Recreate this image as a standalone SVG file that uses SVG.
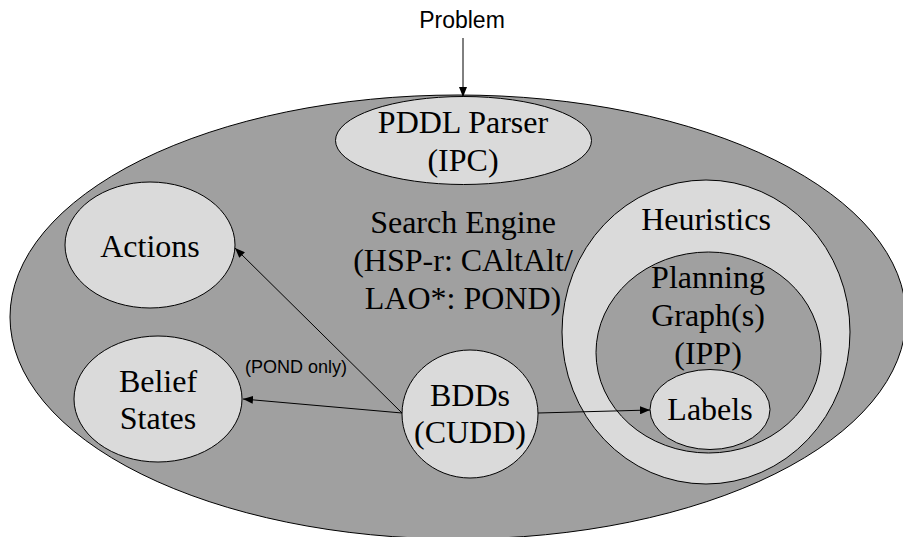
<svg xmlns="http://www.w3.org/2000/svg" width="903" height="537" viewBox="0 0 903 537">
<defs>
<marker id="ah" viewBox="0 0 10 8" refX="10" refY="4" markerWidth="10" markerHeight="8" markerUnits="userSpaceOnUse" orient="auto">
<path d="M0,0 L10,4 L0,8 Z" fill="#000"/>
</marker>
<style>
.dark{fill:#a0a0a0;stroke:#000;stroke-width:1}
.light{fill:#dadada;stroke:#000;stroke-width:1}
.t{font-family:"Liberation Serif","Times New Roman",serif;font-size:32px;fill:#000;text-anchor:middle}
.s{font-family:"Liberation Sans",Arial,sans-serif;fill:#000;text-anchor:middle}
.c{stroke:#000;stroke-width:1;fill:none;marker-end:url(#ah)}
</style>
</defs>
<rect width="903" height="537" fill="#fff"/>
<g id="search-engine">
<ellipse class="dark" cx="458" cy="317" rx="448" ry="222"/>
<text class="t" x="463" y="233">Search Engine</text>
<text class="t" x="463" y="271">(HSP-r: CAltAlt/</text>
<text class="t" x="463" y="309">LAO*: POND)</text>
</g>
<g id="problem">
<text class="s" x="462" y="28" font-size="23">Problem</text>
</g>
<g id="pddl-parser">
<ellipse class="light" cx="463.5" cy="140.5" rx="128" ry="44"/>
<text class="t" x="463" y="133">PDDL Parser</text>
<text class="t" x="463" y="171">(IPC)</text>
</g>
<g id="actions">
<ellipse class="light" cx="150" cy="245" rx="85" ry="63"/>
<text class="t" x="150" y="257">Actions</text>
</g>
<g id="belief-states">
<ellipse class="light" cx="158" cy="399" rx="84" ry="63"/>
<text class="t" x="158" y="392">Belief</text>
<text class="t" x="158" y="429">States</text>
</g>
<g id="bdds">
<ellipse class="light" cx="470" cy="414" rx="68" ry="64"/>
<text class="t" x="470" y="406">BDDs</text>
<text class="t" x="470" y="443">(CUDD)</text>
</g>
<g id="heuristics">
<ellipse class="light" cx="706" cy="332" rx="144" ry="152"/>
<text class="t" x="706" y="230">Heuristics</text>
</g>
<g id="planning-graph">
<ellipse class="dark" cx="708.5" cy="352.5" rx="112.5" ry="100.5"/>
<text class="t" x="708" y="288">Planning</text>
<text class="t" x="708" y="326">Graph(s)</text>
<text class="t" x="708" y="364">(IPP)</text>
</g>
<g id="labels">
<ellipse class="light" cx="710" cy="409.5" rx="60" ry="40"/>
<text class="t" x="710" y="420">Labels</text>
</g>
<g id="connectors">
<line class="c" x1="463" y1="38" x2="463" y2="97"/>
<line class="c" x1="402" y1="413" x2="235" y2="248"/>
<line class="c" x1="402" y1="413" x2="243" y2="399"/>
<line class="c" x1="538" y1="413" x2="650" y2="410"/>
<text class="s" x="296" y="373" font-size="18">(POND only)</text>
</g>
</svg>
